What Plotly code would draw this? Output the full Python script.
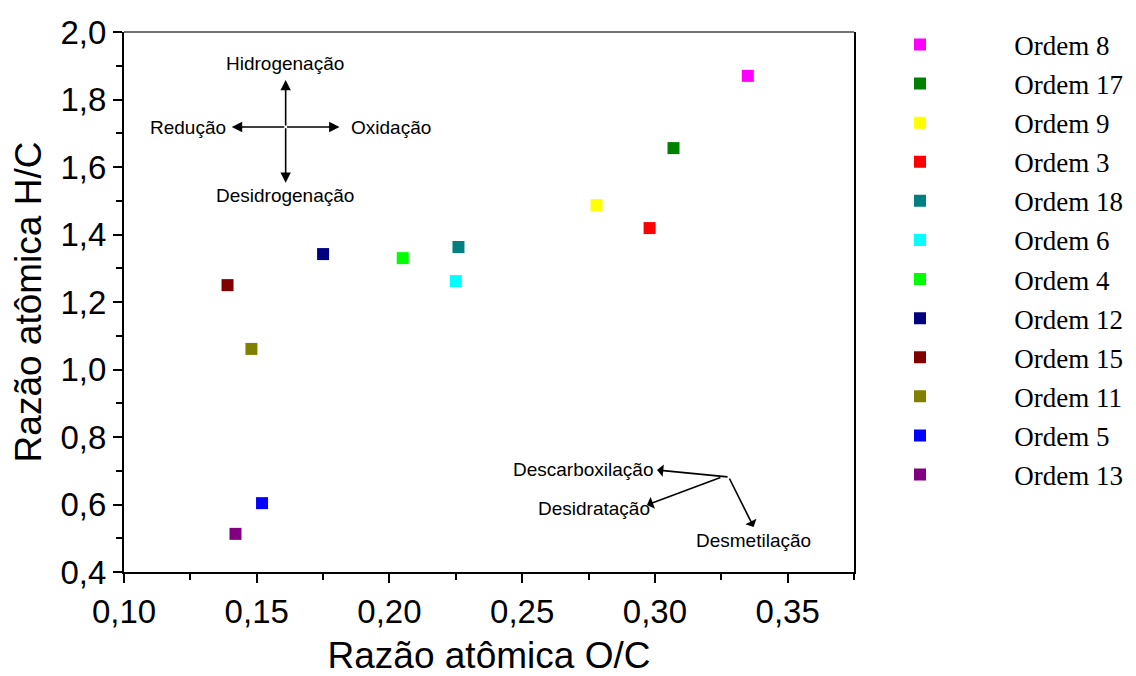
import plotly.graph_objects as go

names = ["Ordem 8", "Ordem 17", "Ordem 9", "Ordem 3", "Ordem 18", "Ordem 6",
         "Ordem 4", "Ordem 12", "Ordem 15", "Ordem 11", "Ordem 5", "Ordem 13"]
oc_ratio = [0.335, 0.307, 0.278, 0.298, 0.226, 0.225,
            0.205, 0.175, 0.139, 0.148, 0.152, 0.142]
hc_ratio = [1.870, 1.656, 1.487, 1.419, 1.363, 1.262,
            1.330, 1.342, 1.250, 1.061, 0.604, 0.513]
colors = ["#FF00FF", "#008000", "#FFFF00", "#FF0000", "#008080", "#00FFFF",
          "#00FF00", "#000080", "#800000", "#808000", "#0000FF", "#800080"]

fig = go.Figure()
pad = "\u00a0" * 11
for n, x, y, c in zip(names, oc_ratio, hc_ratio, colors):
    fig.add_trace(go.Scatter(
        x=[x], y=[y], mode="markers", name=pad + n, legendgroup=n,
        marker=dict(symbol="square", size=12, color=c, line=dict(width=0)),
    ))

axis_font = dict(family="Liberation Sans, Arial", size=33, color="black")
title_font = dict(family="Liberation Sans, Arial", size=37, color="black")
# page body has an 8px margin, so the figure is drawn 8px smaller and offset
fig.update_layout(
    width=1128, height=668,
    margin=dict(l=116, r=282, t=24, b=104, autoexpand=False),
    paper_bgcolor="white", plot_bgcolor="white",
    separators=", ",
    showlegend=True,
    legend=dict(
        x=(900 - 124) / 730, xanchor="left", y=1.0215, yanchor="top",
        font=dict(family="Liberation Serif, Times New Roman", size=27, color="black"),
        bgcolor="rgba(0,0,0,0)", tracegroupgap=1, itemsizing="constant",
        maxheight=1.0,
    ),
    xaxis=dict(
        range=[0.10, 0.375], tickvals=[0.10, 0.15, 0.20, 0.25, 0.30, 0.35],
        tickformat=".2f", ticks="outside", ticklen=9, tickwidth=2, tickcolor="black",
        minor=dict(dtick=0.025, tick0=0.1, ticks="outside", ticklen=6, tickwidth=2, tickcolor="black"),
        showline=True, linecolor="black", linewidth=2, mirror=False,
        showgrid=False, zeroline=False, tickfont=axis_font, automargin=False,
        title=dict(text="Razão atômica O/C", font=title_font, standoff=24),
    ),
    yaxis=dict(
        range=[0.4, 2.0], dtick=0.2, tick0=0.4, tickformat=".1f",
        ticks="outside", ticklen=9, tickwidth=2, tickcolor="black",
        minor=dict(dtick=0.1, tick0=0.4, ticks="outside", ticklen=6, tickwidth=2, tickcolor="black"),
        showline=True, linecolor="black", linewidth=2, mirror=True,
        showgrid=False, zeroline=False, tickfont=axis_font, automargin=False,
        title=dict(text="Razão atômica H/C", font=title_font, standoff=12),
    ),
)

# top frame line
fig.add_shape(type="line", xref="paper", yref="paper", x0=0, x1=1, y0=1, y1=1,
              line=dict(color="#444444", width=1.5))

ann_font = dict(family="Liberation Sans, Arial", size=19, color="black")

def arrow(x, y, ax, ay, head=2):
    fig.add_annotation(x=x, y=y, ax=ax, ay=ay, xref="x", yref="y",
                       showarrow=True, arrowhead=head, arrowsize=1.3, arrowwidth=1.6,
                       arrowcolor="black", text="")

def label(x, y, t, anchor="center"):
    fig.add_annotation(x=x, y=y, xref="x", yref="y", text=t, showarrow=False,
                       xanchor=anchor, yanchor="middle", font=ann_font)

# cross of arrows
arrow(0.1609, 1.858, 0, 47)
arrow(0.1609, 1.553, 0, -56)
arrow(0.1406, 1.7185, 54, 0)
arrow(0.1812, 1.7185, -54, 0)
label(0.1605, 1.908, "Hidrogenação")
label(0.1605, 1.517, "Desidrogenação")
label(0.1391, 1.7185, "Redução", "right")
label(0.1846, 1.7185, "Oxidação", "left")

# lower right arrows
arrow(0.3008, 0.7022, 72, 7, head=1)
arrow(0.2970, 0.5985, 75, -28, head=1)
arrow(0.3372, 0.5333, -25, -50, head=1)
label(0.3000, 0.7052, "Descarboxilação", "right")
label(0.2989, 0.5867, "Desidratação", "right")
label(0.3147, 0.4919, "Desmetilação", "left")

fig.write_html("out.html")
